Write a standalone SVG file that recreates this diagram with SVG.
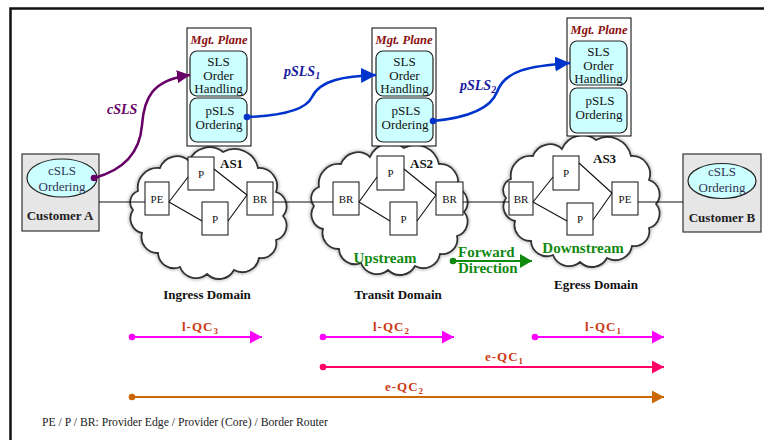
<svg xmlns="http://www.w3.org/2000/svg" width="764" height="440" viewBox="0 0 764 440">
  <style>
    text { font-family: "Liberation Serif", "Times New Roman", serif; }
    .mgt { font-size: 12.5px; font-weight: bold; font-style: italic; fill: #8b1010; text-anchor: middle; }
    .bx { font-size: 13px; fill: #111; text-anchor: middle; }
    .ell { font-size: 13px; fill: #333355; text-anchor: middle; }
    .rt { font-size: 11px; fill: #111; text-anchor: middle; }
    .as { font-size: 13px; font-weight: bold; fill: #111; }
    .dom { font-size: 13px; font-weight: bold; fill: #111; text-anchor: middle; }
    .cust { font-size: 13px; font-weight: bold; fill: #222; text-anchor: middle; }
    .dir { font-size: 15px; font-weight: bold; fill: #128a12; }
    .qc { font-size: 13px; font-weight: bold; fill: #cc3a14; letter-spacing: 1px; }
    .sls { font-size: 14px; font-weight: bold; font-style: italic; }
    .foot { font-size: 11.7px; fill: #222; }
    .frame { stroke: #111; stroke-width: 2.5; fill: none; }
    .plane { fill: #fff; stroke: #000; stroke-width: 1; }
    .func { fill: #ccffff; stroke: #222; stroke-width: 1.2; }
    .cbox { fill: #e6e6e6; stroke: #333; stroke-width: 1.2; }
    .router { fill: #fff; stroke: #111; stroke-width: 1; }
    .link { stroke: #111; stroke-width: 1.1; fill: none; }
    .halo { fill: none; stroke: #9a9a9a; stroke-width: 5; opacity: 0.45; }
    .edge { fill: #fff; stroke: #333; stroke-width: 1.8; }
  </style>
  <defs>
    <filter id="soft" x="-10%" y="-10%" width="120%" height="120%">
      <feGaussianBlur stdDeviation="1.3"/>
    </filter>
    <!-- scalloped cloud outline used for each domain -->
    <path id="cloud" d="M13,47 A20,20 0 0 1 35,24 A18,18 0 0 1 64,17 A22,22 0 0 1 98,8 A24,24 0 0 1 133,24 A18,18 0 0 1 151,48 A15,15 0 0 1 158,72 A15,15 0 0 1 151,96 A15,15 0 0 1 134,114 A17,17 0 0 1 109,126 A17,17 0 0 1 82,130 A17,17 0 0 1 55,123 A16,16 0 0 1 33,109 A16,16 0 0 1 17,89 A15,15 0 0 1 8,66 A12,12 0 0 1 13,47 Z"/>
    <marker id="ah-purple" markerUnits="userSpaceOnUse" markerWidth="14" markerHeight="14" refX="13" refY="6.5" orient="auto">
      <path d="M0,0 L13,6.5 L0,13 Z" fill="#660066"/>
    </marker>
    <marker id="ah-blue" markerUnits="userSpaceOnUse" markerWidth="16" markerHeight="16" refX="15" refY="7.5" orient="auto">
      <path d="M0,0 L15,7.5 L0,15 Z" fill="#0033cc"/>
    </marker>
    <marker id="ah-green" markerUnits="userSpaceOnUse" markerWidth="14" markerHeight="15" refX="12" refY="7" orient="auto">
      <path d="M0,0 L12,7 L0,14 Z" fill="#128a12"/>
    </marker>
    <marker id="ah-mag" markerUnits="userSpaceOnUse" markerWidth="14" markerHeight="14" refX="12" refY="6.5" orient="auto">
      <path d="M0,0 L12,6.5 L0,13 Z" fill="#ff00ff"/>
    </marker>
    <marker id="ah-pink" markerUnits="userSpaceOnUse" markerWidth="14" markerHeight="14" refX="12" refY="6.5" orient="auto">
      <path d="M0,0 L12,6.5 L0,13 Z" fill="#ff0066"/>
    </marker>
    <marker id="ah-orange" markerUnits="userSpaceOnUse" markerWidth="14" markerHeight="14" refX="12" refY="6.5" orient="auto">
      <path d="M0,0 L12,6.5 L0,13 Z" fill="#cc6600"/>
    </marker>
    <marker id="dot-purple" markerUnits="userSpaceOnUse" markerWidth="8" markerHeight="8" refX="4" refY="4"><circle cx="4" cy="4" r="3.3" fill="#660066"/></marker>
    <marker id="dot-blue" markerUnits="userSpaceOnUse" markerWidth="8" markerHeight="8" refX="4" refY="4"><circle cx="4" cy="4" r="3.3" fill="#0033cc"/></marker>
    <marker id="dot-green" markerUnits="userSpaceOnUse" markerWidth="8" markerHeight="8" refX="4" refY="4"><circle cx="4" cy="4" r="3.3" fill="#128a12"/></marker>
    <marker id="dot-mag" markerUnits="userSpaceOnUse" markerWidth="8" markerHeight="8" refX="4" refY="4"><circle cx="4" cy="4" r="3.3" fill="#ff00ff"/></marker>
    <marker id="dot-pink" markerUnits="userSpaceOnUse" markerWidth="8" markerHeight="8" refX="4" refY="4"><circle cx="4" cy="4" r="3.3" fill="#ff0066"/></marker>
    <marker id="dot-orange" markerUnits="userSpaceOnUse" markerWidth="8" markerHeight="8" refX="4" refY="4"><circle cx="4" cy="4" r="3.3" fill="#cc6600"/></marker>
  </defs>

  <rect width="764" height="440" fill="#fff"/>
  <!-- outer frame: top and left rules -->
  <path class="frame" d="M10.5,440 L10.5,8.5 L764,8.5"/>

  <!-- domain clouds -->
  <g id="cloud-ingress" transform="translate(125,144)">
    <use href="#cloud" class="halo" filter="url(#soft)"/>
    <use href="#cloud" class="edge"/>
  </g>
  <g id="cloud-transit" transform="translate(306,140)">
    <use href="#cloud" class="halo" filter="url(#soft)"/>
    <use href="#cloud" class="edge"/>
  </g>
  <g id="cloud-egress" transform="translate(498,132)">
    <use href="#cloud" class="halo" filter="url(#soft)"/>
    <use href="#cloud" class="edge"/>
  </g>

  <!-- routers: ingress domain -->
  <g id="pe1"><rect class="router" x="145" y="182" width="24" height="33"/><text class="rt" x="157" y="202.5">PE</text></g>
  <g id="p1a"><rect class="router" x="188" y="157" width="26" height="33"/><text class="rt" x="201" y="177.5">P</text></g>
  <g id="p1b"><rect class="router" x="202" y="202" width="26" height="33"/><text class="rt" x="215" y="222.5">P</text></g>
  <g id="br1"><rect class="router" x="247" y="182" width="26" height="33"/><text class="rt" x="260" y="202.5">BR</text></g>
  <!-- routers: transit domain -->
  <g id="br2a"><rect class="router" x="333" y="182" width="26" height="33"/><text class="rt" x="346" y="202.5">BR</text></g>
  <g id="p2a"><rect class="router" x="377" y="156" width="27" height="34"/><text class="rt" x="390.5" y="177">P</text></g>
  <g id="p2b"><rect class="router" x="390" y="202" width="27" height="33"/><text class="rt" x="403.5" y="222.5">P</text></g>
  <g id="br2b"><rect class="router" x="436" y="182" width="27" height="33"/><text class="rt" x="449.5" y="202.5">BR</text></g>
  <!-- routers: egress domain -->
  <g id="br3"><rect class="router" x="509" y="182" width="24" height="33"/><text class="rt" x="521" y="202.5">BR</text></g>
  <g id="p3a"><rect class="router" x="553" y="156" width="26" height="34"/><text class="rt" x="566" y="177">P</text></g>
  <g id="p3b"><rect class="router" x="567" y="203" width="26" height="32"/><text class="rt" x="580" y="223">P</text></g>
  <g id="pe3"><rect class="router" x="612" y="182" width="26" height="33"/><text class="rt" x="625" y="202.5">PE</text></g>

  <!-- management planes -->
  <g id="mgt1">
    <rect class="plane" x="187" y="28" width="64" height="118"/>
    <text class="mgt" x="219" y="44">Mgt. Plane</text>
    <rect class="func" x="190" y="51" width="57" height="45" rx="7"/>
    <text class="bx" x="218.5" y="66">SLS</text>
    <text class="bx" x="218.5" y="79.5">Order</text>
    <text class="bx" x="218.5" y="93">Handling</text>
    <rect class="func" x="190" y="98" width="57" height="44" rx="7"/>
    <text class="bx" x="220" y="115">pSLS</text>
    <text class="bx" x="219" y="129">Ordering</text>
  </g>
  <g id="mgt2">
    <rect class="plane" x="372" y="28" width="64" height="118"/>
    <text class="mgt" x="404" y="44">Mgt. Plane</text>
    <rect class="func" x="376" y="51" width="57" height="45" rx="7"/>
    <text class="bx" x="404.5" y="66">SLS</text>
    <text class="bx" x="404.5" y="79.5">Order</text>
    <text class="bx" x="404.5" y="93">Handling</text>
    <rect class="func" x="376" y="98" width="57" height="44" rx="7"/>
    <text class="bx" x="406" y="115">pSLS</text>
    <text class="bx" x="405" y="129">Ordering</text>
  </g>
  <g id="mgt3">
    <rect class="plane" x="567" y="18" width="64" height="118"/>
    <text class="mgt" x="599" y="34">Mgt. Plane</text>
    <rect class="func" x="570" y="41" width="57" height="44" rx="7"/>
    <text class="bx" x="598.5" y="56">SLS</text>
    <text class="bx" x="598.5" y="69.5">Order</text>
    <text class="bx" x="598.5" y="83">Handling</text>
    <rect class="func" x="570" y="88" width="57" height="45" rx="7"/>
    <text class="bx" x="600" y="105">pSLS</text>
    <text class="bx" x="599" y="119">Ordering</text>
  </g>

  <!-- customers -->
  <g id="customerA">
    <rect class="cbox" x="22" y="154" width="77" height="77"/>
    <ellipse class="func" cx="62" cy="178" rx="35" ry="19"/>
    <text class="ell" x="62" y="175">cSLS</text>
    <text class="ell" x="62" y="191">Ordering</text>
    <text class="cust" x="60" y="220">Customer A</text>
  </g>
  <g id="customerB">
    <rect class="cbox" x="683" y="154" width="78" height="78"/>
    <ellipse class="func" cx="722" cy="181" rx="34" ry="17.5"/>
    <text class="ell" x="722" y="176">cSLS</text>
    <text class="ell" x="722" y="192">Ordering</text>
    <text class="cust" x="722" y="222">Customer B</text>
  </g>

  <!-- connectors -->
  <g id="connectors">
    <!-- data path between customers and domains -->
    <path class="link" d="M99,202 H145 M273,202 H333 M463,202 H509 M638,202 H683"/>
    <!-- intra-domain links -->
    <path class="link" d="M169,202 L188,177 M169,202 L202,221 M214,169 L247,195 M228,221 L247,195"/>
    <path class="link" d="M359,202 L377,177 M359,202 L390,221 M404,169 L436,195 M417,221 L436,195"/>
    <path class="link" d="M533,202 L553,177 M533,202 L567,221 M579,163 L612,193 M593,220 L612,193"/>
    <!-- SLS signalling -->
    <path id="cSLS" d="M94,178 C124,170 140,152 142,125 S152,80 190,75" fill="none" stroke="#660066" stroke-width="2.6" marker-start="url(#dot-purple)" marker-end="url(#ah-purple)"/>
    <path id="pSLS1" d="M247,117 C275,116 305,112 312,97 C320,80 345,76 376,75" fill="none" stroke="#0033cc" stroke-width="2.6" marker-start="url(#dot-blue)" marker-end="url(#ah-blue)"/>
    <path id="pSLS2" d="M433,121 C465,118 490,110 497,92 C505,70 530,66 570,63" fill="none" stroke="#0033cc" stroke-width="2.6" marker-start="url(#dot-blue)" marker-end="url(#ah-blue)"/>
    <!-- forward direction -->
    <path d="M453,261 H532" stroke="#128a12" stroke-width="2" marker-start="url(#dot-green)" marker-end="url(#ah-green)"/>
    <!-- QoS classes -->
    <path d="M132,337 H262" stroke="#ff00ff" stroke-width="1.8" marker-start="url(#dot-mag)" marker-end="url(#ah-mag)"/>
    <path d="M323,337 H454" stroke="#ff00ff" stroke-width="1.8" marker-start="url(#dot-mag)" marker-end="url(#ah-mag)"/>
    <path d="M535,337 H664" stroke="#ff00ff" stroke-width="1.8" marker-start="url(#dot-mag)" marker-end="url(#ah-mag)"/>
    <path d="M323,367 H664" stroke="#ff0066" stroke-width="1.8" marker-start="url(#dot-pink)" marker-end="url(#ah-pink)"/>
    <path d="M132,397 H664" stroke="#cc6600" stroke-width="1.8" marker-start="url(#dot-orange)" marker-end="url(#ah-orange)"/>
  </g>

  <!-- domain labels -->
  <text class="as" x="220" y="168">AS1</text>
  <text class="as" x="410" y="168">AS2</text>
  <text class="as" x="593" y="163">AS3</text>
  <text class="dom" x="207" y="299">Ingress Domain</text>
  <text class="dom" x="398" y="299">Transit Domain</text>
  <text class="dom" x="596" y="289">Egress Domain</text>
  <text class="dir" x="385" y="263" text-anchor="middle">Upstream</text>
  <text class="dir" x="583" y="253" text-anchor="middle">Downstream</text>
  <text class="dir" x="458" y="257">Forward</text>
  <text class="dir" x="458" y="273">Direction</text>

  <!-- signalling labels -->
  <text class="sls" x="107" y="114" fill="#660066">cSLS</text>
  <text class="sls" x="284" y="76" fill="#1a1aa0">pSLS<tspan font-size="10" dy="3">1</tspan></text>
  <text class="sls" x="460" y="90" fill="#1a1aa0">pSLS<tspan font-size="10" dy="3">2</tspan></text>

  <!-- QoS class labels -->
  <text class="qc" x="182" y="331">l-QC<tspan font-size="9" dy="3">3</tspan></text>
  <text class="qc" x="373" y="331">l-QC<tspan font-size="9" dy="3">2</tspan></text>
  <text class="qc" x="585" y="331">l-QC<tspan font-size="9" dy="3">1</tspan></text>
  <text class="qc" x="485" y="361">e-QC<tspan font-size="9" dy="3">1</tspan></text>
  <text class="qc" x="385" y="391">e-QC<tspan font-size="9" dy="3">2</tspan></text>

  <text class="foot" x="42" y="426">PE / P / BR: Provider Edge / Provider (Core) / Border Router</text>
</svg>
